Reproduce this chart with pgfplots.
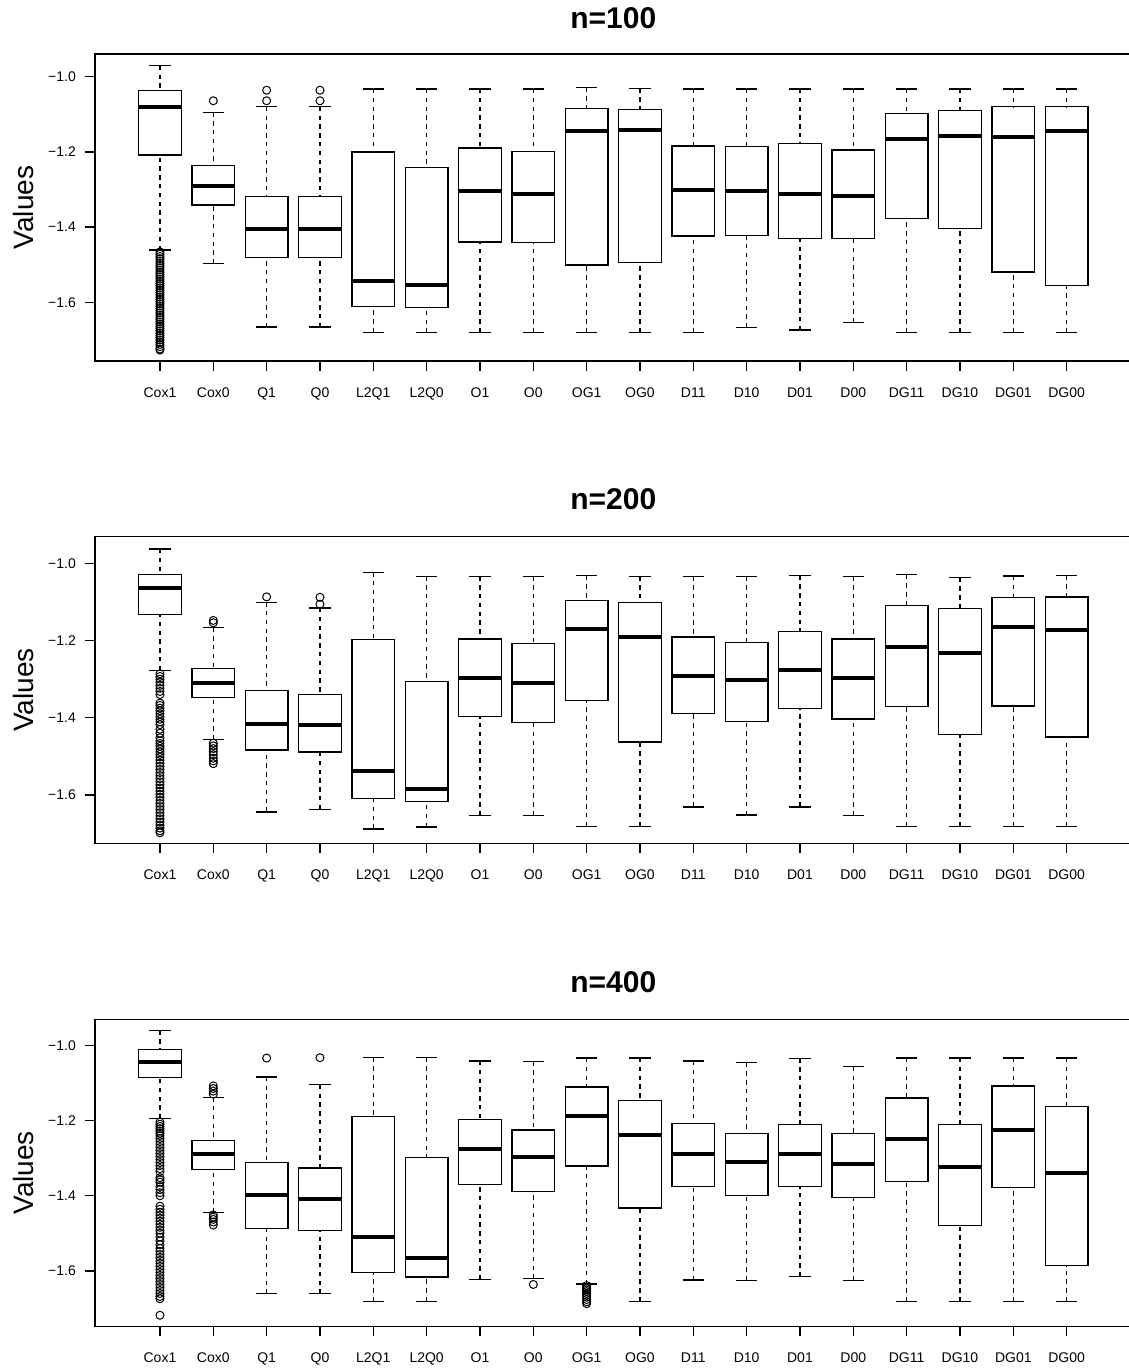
\documentclass[border=0pt]{standalone}
\usepackage{fontspec}
\setmainfont{Liberation Sans}
\usepackage{pgfplots}
\pgfplotsset{compat=1.18}
\usepgfplotslibrary{statistics}

\pgfplotsset{
  rpanel/.style={
    scale only axis, width=518.4pt, anchor=south west,
    xmin=-0.22, xmax=19.22,
    xtick={1,...,18},
    xticklabels={Cox1,Cox0,Q1,Q0,L2Q1,L2Q0,O1,O0,OG1,OG0,D11,D10,D01,D00,DG11,DG10,DG01,DG00},
    ytick={-1.6,-1.4,-1.2,-1.0},
    yticklabels={−1.6,−1.4,−1.2,−1.0},
    tick align=outside, major tick length=5pt,
    xtick pos=bottom, ytick pos=left,
    axis line style={line width=0.65pt},
    every tick/.style={black, line width=0.65pt},
    tick label style={font=\fontsize{7}{8}\selectfont},
    xticklabel style={yshift=-4.5pt, text height=5pt, text depth=0pt},
    yticklabel style={xshift=-1pt},
    boxplot/draw direction=y,
  },
  rbox/.style={
    black, line width=0.65pt, mark=o, mark size=2pt,
    mark options={solid, line width=0.5pt},
    boxplot/draw direction=y,
    boxplot/box extend=0.8,
    boxplot/whisker extend=0.4,
    boxplot/every median/.style={line width=2pt},
    boxplot/draw/lower whisker/.code={%
      \draw[dash pattern=on 2.2pt off 2.2pt]
        (boxplot box cs:\pgfplotsboxplotvalue{lower whisker},0.5) --
        (boxplot box cs:\pgfplotsboxplotvalue{lower quartile},0.5);
      \draw[solid]
        (boxplot whisker cs:\pgfplotsboxplotvalue{lower whisker},0) --
        (boxplot whisker cs:\pgfplotsboxplotvalue{lower whisker},1);
    },
    boxplot/draw/upper whisker/.code={%
      \draw[dash pattern=on 2.2pt off 2.2pt]
        (boxplot box cs:\pgfplotsboxplotvalue{upper whisker},0.5) --
        (boxplot box cs:\pgfplotsboxplotvalue{upper quartile},0.5);
      \draw[solid]
        (boxplot whisker cs:\pgfplotsboxplotvalue{upper whisker},0) --
        (boxplot whisker cs:\pgfplotsboxplotvalue{upper whisker},1);
    },
  },
}

% position, lower whisker, lower quartile, median, upper quartile, upper whisker, outliers
\newcommand{\bx}[7]{\addplot[rbox, boxplot prepared={draw position=#1, lower whisker=#2, lower quartile=#3, median=#4, upper quartile=#5, upper whisker=#6}] coordinates {#7};}

\begin{document}
\begin{tikzpicture}
\useasboundingbox (0,0) rectangle (564pt,684pt);

% ---------------- n=100 ----------------
\begin{axis}[rpanel, at={(47.45pt,503.5pt)}, height=153.5pt, ymin=-1.756, ymax=-0.9396]
\bx{1}{-1.461}{-1.208}{-1.081}{-1.036}{-0.971}{(1,-1.466) (1,-1.472) (1,-1.478) (1,-1.484) (1,-1.490) (1,-1.496) (1,-1.502) (1,-1.508) (1,-1.514) (1,-1.520) (1,-1.526) (1,-1.532) (1,-1.538) (1,-1.544) (1,-1.550) (1,-1.556) (1,-1.562) (1,-1.568) (1,-1.574) (1,-1.580) (1,-1.586) (1,-1.592) (1,-1.598) (1,-1.604) (1,-1.610) (1,-1.616) (1,-1.622) (1,-1.628) (1,-1.634) (1,-1.640) (1,-1.646) (1,-1.652) (1,-1.658) (1,-1.664) (1,-1.670) (1,-1.676) (1,-1.682) (1,-1.688) (1,-1.694) (1,-1.700) (1,-1.706) (1,-1.712) (1,-1.718) (1,-1.724) (1,-1.727)}
\bx{2}{-1.497}{-1.341}{-1.291}{-1.237}{-1.095}{(2,-1.064)}
\bx{3}{-1.666}{-1.481}{-1.405}{-1.319}{-1.080}{(3,-1.036) (3,-1.064)}
\bx{4}{-1.666}{-1.481}{-1.405}{-1.319}{-1.080}{(4,-1.036) (4,-1.064)}
\bx{5}{-1.680}{-1.611}{-1.542}{-1.200}{-1.033}{}
\bx{6}{-1.681}{-1.613}{-1.554}{-1.242}{-1.033}{}
\bx{7}{-1.680}{-1.440}{-1.304}{-1.190}{-1.033}{}
\bx{8}{-1.680}{-1.441}{-1.312}{-1.199}{-1.033}{}
\bx{9}{-1.680}{-1.501}{-1.145}{-1.085}{-1.029}{}
\bx{10}{-1.680}{-1.494}{-1.142}{-1.088}{-1.031}{}
\bx{11}{-1.680}{-1.424}{-1.301}{-1.184}{-1.033}{}
\bx{12}{-1.667}{-1.422}{-1.303}{-1.186}{-1.033}{}
\bx{13}{-1.674}{-1.431}{-1.313}{-1.178}{-1.033}{}
\bx{14}{-1.654}{-1.430}{-1.317}{-1.195}{-1.033}{}
\bx{15}{-1.680}{-1.377}{-1.167}{-1.098}{-1.033}{}
\bx{16}{-1.680}{-1.403}{-1.159}{-1.090}{-1.033}{}
\bx{17}{-1.680}{-1.519}{-1.160}{-1.080}{-1.033}{}
\bx{18}{-1.681}{-1.556}{-1.145}{-1.080}{-1.033}{}
\end{axis}

% ---------------- n=200 ----------------
\begin{axis}[rpanel, at={(47.45pt,262.35pt)}, height=153.3pt, ymin=-1.7254, ymax=-0.931]
\bx{1}{-1.277}{-1.132}{-1.065}{-1.029}{-0.963}{(1,-1.286) (1,-1.293) (1,-1.300) (1,-1.308) (1,-1.316) (1,-1.324) (1,-1.332) (1,-1.340) (1,-1.362) (1,-1.368) (1,-1.375) (1,-1.382) (1,-1.390) (1,-1.397) (1,-1.404) (1,-1.411) (1,-1.418) (1,-1.430) (1,-1.440) (1,-1.452) (1,-1.460) (1,-1.467) (1,-1.474) (1,-1.481) (1,-1.488) (1,-1.495) (1,-1.502) (1,-1.510) (1,-1.518) (1,-1.526) (1,-1.534) (1,-1.542) (1,-1.550) (1,-1.558) (1,-1.566) (1,-1.574) (1,-1.582) (1,-1.590) (1,-1.598) (1,-1.606) (1,-1.614) (1,-1.622) (1,-1.630) (1,-1.638) (1,-1.646) (1,-1.654) (1,-1.662) (1,-1.670) (1,-1.678) (1,-1.686) (1,-1.693) (1,-1.698)}
\bx{2}{-1.457}{-1.347}{-1.310}{-1.272}{-1.166}{(2,-1.148) (2,-1.154) (2,-1.466) (2,-1.473) (2,-1.480) (2,-1.488) (2,-1.496) (2,-1.505) (2,-1.512) (2,-1.519)}
\bx{3}{-1.644}{-1.484}{-1.416}{-1.329}{-1.101}{(3,-1.087)}
\bx{4}{-1.637}{-1.489}{-1.420}{-1.339}{-1.116}{(4,-1.088) (4,-1.106)}
\bx{5}{-1.688}{-1.610}{-1.537}{-1.198}{-1.023}{}
\bx{6}{-1.683}{-1.618}{-1.585}{-1.306}{-1.034}{}
\bx{7}{-1.653}{-1.396}{-1.296}{-1.196}{-1.034}{}
\bx{8}{-1.653}{-1.413}{-1.311}{-1.208}{-1.034}{}
\bx{9}{-1.681}{-1.355}{-1.169}{-1.097}{-1.032}{}
\bx{10}{-1.681}{-1.463}{-1.192}{-1.101}{-1.034}{}
\bx{11}{-1.631}{-1.389}{-1.291}{-1.191}{-1.034}{}
\bx{12}{-1.652}{-1.410}{-1.303}{-1.205}{-1.034}{}
\bx{13}{-1.631}{-1.376}{-1.277}{-1.177}{-1.032}{}
\bx{14}{-1.653}{-1.403}{-1.298}{-1.196}{-1.034}{}
\bx{15}{-1.681}{-1.371}{-1.216}{-1.110}{-1.029}{}
\bx{16}{-1.681}{-1.444}{-1.232}{-1.117}{-1.037}{}
\bx{17}{-1.681}{-1.370}{-1.165}{-1.088}{-1.033}{}
\bx{18}{-1.681}{-1.450}{-1.174}{-1.087}{-1.032}{}
\end{axis}

% ---------------- n=400 ----------------
\begin{axis}[rpanel, at={(47.45pt,20.85pt)}, height=153.5pt, ymin=-1.7473, ymax=-0.9309]
\bx{1}{-1.195}{-1.086}{-1.044}{-1.012}{-0.961}{(1,-1.204) (1,-1.210) (1,-1.216) (1,-1.222) (1,-1.228) (1,-1.234) (1,-1.240) (1,-1.248) (1,-1.256) (1,-1.264) (1,-1.272) (1,-1.280) (1,-1.288) (1,-1.296) (1,-1.304) (1,-1.312) (1,-1.320) (1,-1.328) (1,-1.336) (1,-1.352) (1,-1.358) (1,-1.364) (1,-1.376) (1,-1.384) (1,-1.392) (1,-1.400) (1,-1.428) (1,-1.436) (1,-1.444) (1,-1.452) (1,-1.460) (1,-1.468) (1,-1.476) (1,-1.484) (1,-1.492) (1,-1.500) (1,-1.510) (1,-1.520) (1,-1.530) (1,-1.540) (1,-1.548) (1,-1.556) (1,-1.564) (1,-1.572) (1,-1.580) (1,-1.588) (1,-1.596) (1,-1.604) (1,-1.612) (1,-1.620) (1,-1.628) (1,-1.636) (1,-1.644) (1,-1.652) (1,-1.660) (1,-1.668) (1,-1.674) (1,-1.718)}
\bx{2}{-1.445}{-1.331}{-1.289}{-1.254}{-1.138}{(2,-1.108) (2,-1.115) (2,-1.122) (2,-1.130) (2,-1.451) (2,-1.457) (2,-1.463) (2,-1.470) (2,-1.478)}
\bx{3}{-1.661}{-1.487}{-1.398}{-1.312}{-1.084}{(3,-1.034)}
\bx{4}{-1.661}{-1.492}{-1.410}{-1.326}{-1.105}{(4,-1.033)}
\bx{5}{-1.681}{-1.604}{-1.509}{-1.189}{-1.033}{}
\bx{6}{-1.681}{-1.616}{-1.566}{-1.299}{-1.033}{}
\bx{7}{-1.623}{-1.370}{-1.276}{-1.197}{-1.042}{}
\bx{8}{-1.621}{-1.388}{-1.297}{-1.225}{-1.043}{(8,-1.636)}
\bx{9}{-1.635}{-1.321}{-1.189}{-1.111}{-1.034}{(9,-1.639) (9,-1.643) (9,-1.647) (9,-1.651) (9,-1.655) (9,-1.660) (9,-1.665) (9,-1.670) (9,-1.676) (9,-1.682) (9,-1.687)}
\bx{10}{-1.681}{-1.433}{-1.239}{-1.147}{-1.034}{}
\bx{11}{-1.624}{-1.376}{-1.290}{-1.208}{-1.042}{}
\bx{12}{-1.625}{-1.399}{-1.310}{-1.234}{-1.046}{}
\bx{13}{-1.615}{-1.375}{-1.289}{-1.210}{-1.035}{}
\bx{14}{-1.625}{-1.405}{-1.317}{-1.235}{-1.057}{}
\bx{15}{-1.681}{-1.362}{-1.249}{-1.140}{-1.034}{}
\bx{16}{-1.681}{-1.479}{-1.323}{-1.211}{-1.034}{}
\bx{17}{-1.681}{-1.378}{-1.226}{-1.108}{-1.034}{}
\bx{18}{-1.681}{-1.586}{-1.340}{-1.162}{-1.034}{}
\end{axis}

% titles and axis labels
\node[font=\fontsize{15}{18}\bfseries\selectfont] at (306.65pt,675pt) {n=100};
\node[font=\fontsize{15}{18}\bfseries\selectfont] at (306.65pt,434.5pt) {n=200};
\node[font=\fontsize{15}{18}\bfseries\selectfont] at (306.65pt,193.15pt) {n=400};
\node[rotate=90, font=\fontsize{14}{17}\selectfont] at (11.5pt,580.25pt) {Values};
\node[rotate=90, font=\fontsize{14}{17}\selectfont] at (11.5pt,339pt) {Values};
\node[rotate=90, font=\fontsize{14}{17}\selectfont] at (11.5pt,97.6pt) {Values};
\end{tikzpicture}
\end{document}
